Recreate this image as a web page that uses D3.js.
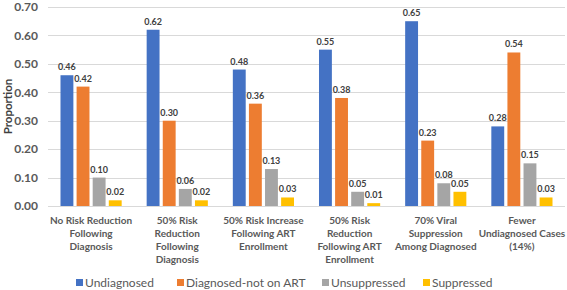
<!DOCTYPE html>
<html>
<head>
<meta charset="utf-8">
<script src="https://cdn.jsdelivr.net/npm/d3@7"></script>
<style>
  body { margin: 0; background: #fff; }
  svg { font-family: Lato, "Open Sans", sans-serif; }
</style>
</head>
<body>
<div id="container"></div>
<script>
const categories = [
  ["No Risk Reduction", "Following", "Diagnosis"],
  ["50% Risk", "Reduction", "Following", "Diagnosis"],
  ["50% Risk Increase", "Following ART", "Enrollment"],
  ["50% Risk", "Reduction", "Following ART", "Enrollment"],
  ["70% Viral", "Suppression", "Among Diagnosed"],
  ["Fewer", "Undiagnosed Cases", "(14%)"]
];
const seriesNames = ["Undiagnosed", "Diagnosed-not on ART", "Unsuppressed", "Suppressed"];
const undiagnosed = [0.46, 0.62, 0.48, 0.55, 0.65, 0.28];
const diagnosedNotArt = [0.42, 0.30, 0.36, 0.38, 0.23, 0.54];
const unsuppressed = [0.10, 0.06, 0.13, 0.05, 0.08, 0.15];
const suppressed = [0.02, 0.02, 0.03, 0.01, 0.05, 0.03];
const yTicks = [0, 0.1, 0.2, 0.3, 0.4, 0.5, 0.6, 0.7];

const colors = ["#4472C4", "#ED7D31", "#A5A5A5", "#FFC000"];
const series = [undiagnosed, diagnosedNotArt, unsuppressed, suppressed];

const width = 567, height = 290;
const margin = {top: 7, right: 2, bottom: 84, left: 48};

const svg = d3.create("svg")
    .attr("width", width)
    .attr("height", height);

const x = d3.scaleBand()
    .domain(d3.range(categories.length))
    .range([margin.left, width - margin.right])
    .paddingInner(0.29)
    .paddingOuter(0.145);

const xs = d3.scaleBand()
    .domain(d3.range(series.length))
    .range([0, x.bandwidth()])
    .paddingInner(0.2);

const y = d3.scaleLinear()
    .domain([0, 0.7])
    .range([height - margin.bottom, margin.top]);

// gridlines
svg.append("g")
    .selectAll("line")
    .data(yTicks)
    .join("line")
    .attr("x1", margin.left)
    .attr("x2", width - margin.right)
    .attr("y1", d => Math.round(y(d)) + 0.5)
    .attr("y2", d => Math.round(y(d)) + 0.5)
    .attr("stroke", "#d9d9d9")
    .attr("stroke-width", 1);

// y axis labels
const yAxis = svg.append("g")
    .attr("transform", `translate(${margin.left},0)`)
    .call(d3.axisLeft(y).tickValues(yTicks).tickFormat(d3.format(".2f")).tickSize(0).tickPadding(10));
yAxis.select(".domain").remove();
yAxis.selectAll("text")
    .attr("fill", "#595959")
    .attr("font-size", 12)
    .attr("font-weight", "bold")
    .attr("font-family", "Lato, sans-serif");

svg.append("text")
    .attr("transform", `translate(12,${(y(0) + y(0.7)) / 2}) rotate(-90)`)
    .attr("text-anchor", "middle")
    .attr("font-size", 11.5)
    .attr("font-weight", "bold")
    .attr("fill", "#404040")
    .text("Proportion");

// bars
series.forEach((vals, si) => {
  const g = svg.append("g");
  g.selectAll("rect")
    .data(vals)
    .join("rect")
    .attr("x", (d, i) => x(i) + xs(si))
    .attr("y", d => y(d))
    .attr("width", xs.bandwidth())
    .attr("height", d => y(0) - y(d))
    .attr("fill", colors[si]);
  g.selectAll("text")
    .data(vals)
    .join("text")
    .attr("x", (d, i) => x(i) + xs(si) + xs.bandwidth() / 2)
    .attr("y", d => y(d) - 5)
    .attr("text-anchor", "middle")
    .attr("font-size", 9)
    .attr("font-weight", "bold")
    .attr("fill", "#404040")
    .text(d => d3.format(".2f")(d));
});

// category labels
const cat = svg.append("g");
categories.forEach((lines, i) => {
  const t = cat.append("text")
    .attr("x", x(i) + x.bandwidth() / 2)
    .attr("y", y(0) + 18)
    .attr("text-anchor", "middle")
    .attr("font-size", 10)
    .attr("font-weight", "bold")
    .attr("fill", "#595959");
  lines.forEach((l, j) => {
    t.append("tspan")
      .attr("x", x(i) + x.bandwidth() / 2)
      .attr("dy", j === 0 ? 0 : 13)
      .text(l);
  });
});

// legend
const legendX = [76, 177, 322, 423];
const legend = svg.append("g");
seriesNames.forEach((name, i) => {
  legend.append("rect")
    .attr("x", legendX[i])
    .attr("y", 279)
    .attr("width", 7)
    .attr("height", 7)
    .attr("fill", colors[i]);
  legend.append("text")
    .attr("x", legendX[i] + 9)
    .attr("y", 287)
    .attr("font-size", 12)
    .attr("fill", "#595959")
    .text(name);
});

container.append(svg.node());
</script>
</body>
</html>
